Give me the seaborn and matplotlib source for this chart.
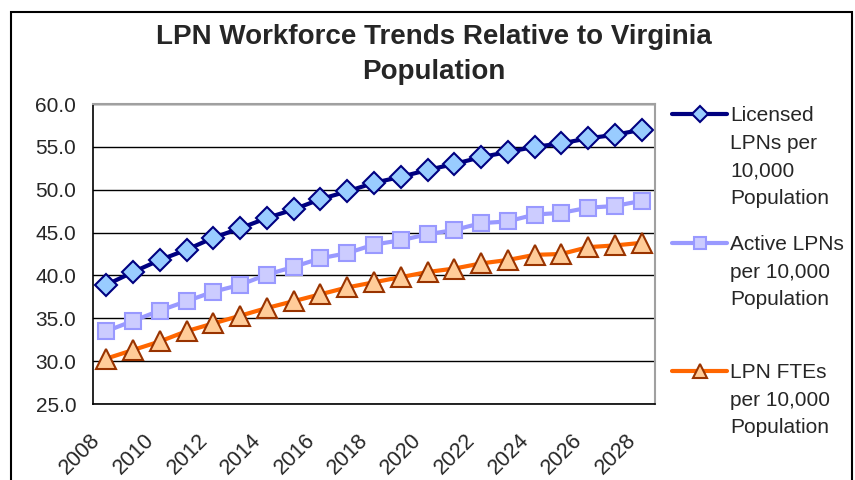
import matplotlib
matplotlib.use("Agg")
import matplotlib.pyplot as plt
from matplotlib.lines import Line2D
from matplotlib.patches import Rectangle
import matplotlib.transforms as mtransforms
import numpy as np
import seaborn as sns

# ── Data ──────────────────────────────────────────────────
years = list(range(2008, 2029))
licensed = [38.9, 40.4, 41.8, 43.0, 44.4, 45.5, 46.7, 47.7, 48.9, 49.8, 50.8,
            51.5, 52.3, 53.0, 53.8, 54.4, 55.0, 55.4, 56.0, 56.4, 57.0]
active = [33.5, 34.7, 35.9, 37.0, 38.1, 38.9, 40.1, 41.0, 42.0, 42.6, 43.6,
          44.1, 44.8, 45.3, 46.1, 46.3, 47.1, 47.3, 47.9, 48.1, 48.7]
ftes = [30.3, 31.3, 32.3, 33.5, 34.4, 35.3, 36.2, 37.0, 37.8, 38.6, 39.2,
        39.8, 40.4, 40.8, 41.4, 41.8, 42.4, 42.5, 43.3, 43.5, 43.8]
labels = ["Licensed\nLPNs per\n10,000\nPopulation",
          "Active LPNs\nper 10,000\nPopulation",
          "LPN FTEs\nper 10,000\nPopulation"]
title = "LPN Workforce Trends Relative to Virginia\nPopulation"

sns.set_style("white")
plt.rcParams["font.family"] = ["Liberation Sans", "DejaVu Sans"]

W, H = 855, 480
fig = plt.figure(figsize=(W / 100, H / 100), dpi=100)
ax = fig.add_axes([93 / W, 1 - 404 / H, (655 - 93) / W, (404 - 104) / H])

styles = [
    dict(color="#000080", marker="D", markersize=11, markerfacecolor="#99CCFF",
         markeredgecolor="#000080", markeredgewidth=1.5, linewidth=3),
    dict(color="#9999FF", marker="s", markersize=12, markerfacecolor="#CCCCFF",
         markeredgecolor="#9999FF", markeredgewidth=1.5, linewidth=3),
    dict(color="#FF6600", marker="^", markersize=14, markerfacecolor="#FFCC99",
         markeredgecolor="#993300", markeredgewidth=1.5, linewidth=3),
]
for series, st in zip([licensed, active, ftes], styles):
    sns.lineplot(x=years, y=series, ax=ax, **st)

ax.set_xlim(2007.5, 2028.5)
ax.set_ylim(25, 60)
ax.set_yticks(np.arange(25, 60.1, 5))
ax.set_yticklabels([f"{v:.1f}" for v in np.arange(25, 60.1, 5)], fontsize=15)
ax.yaxis.grid(True, color="black", linewidth=1)
ax.set_axisbelow(True)

# category ticks sit between years, labels on every other year
ax.set_xticks(np.arange(2007.5, 2028.6, 1))
ax.set_xticklabels([])
ax.tick_params(axis="x", which="major", length=6, width=1, color="black", direction="out")
ax.tick_params(axis="y", length=8, width=1, color="black", direction="out", pad=4)
offset = mtransforms.ScaledTranslation(-9 / 100, -33 / 100, fig.dpi_scale_trans)
for yr in years[::2]:
    ax.text(yr, 0, str(yr), transform=mtransforms.blended_transform_factory(ax.transData, ax.transAxes) + offset,
            rotation=45, rotation_mode="anchor", ha="right", va="center", fontsize=15.5)

for side in ["left", "bottom"]:
    ax.spines[side].set_color("black")
    ax.spines[side].set_linewidth(1.2)
for side in ["top", "right"]:
    ax.spines[side].set_color("#A0A0A0")
    ax.spines[side].set_linewidth(1.5)

fig.text(434 / W, 1 - 24 / H, title, ha="center", va="top", fontsize=20,
         fontweight="bold", linespacing=1.45)

# legend, Excel style: handle beside the first line of each label
for lab, st, yc in zip(labels, styles, [114, 243, 371]):
    fig.add_artist(Line2D([672 / W, 727 / W], [1 - yc / H, 1 - yc / H],
                          transform=fig.transFigure, color=st["color"], linewidth=3))
    fig.add_artist(Line2D([700 / W], [1 - yc / H], transform=fig.transFigure,
                          marker=st["marker"], markersize=st["markersize"] * 0.75,
                          markerfacecolor=st["markerfacecolor"],
                          markeredgecolor=st["markeredgecolor"], markeredgewidth=1.5,
                          linestyle="none"))
    fig.text(730 / W, 1 - (yc - 8) / H, lab, ha="left", va="top", fontsize=15,
             linespacing=1.58)

fig.add_artist(Rectangle((11 / W, -0.05), (852 - 11) / W, 1 - 12 / H + 0.05,
                         transform=fig.transFigure, fill=False, edgecolor="black",
                         linewidth=1.5))

fig.savefig("out.png", dpi=100)
